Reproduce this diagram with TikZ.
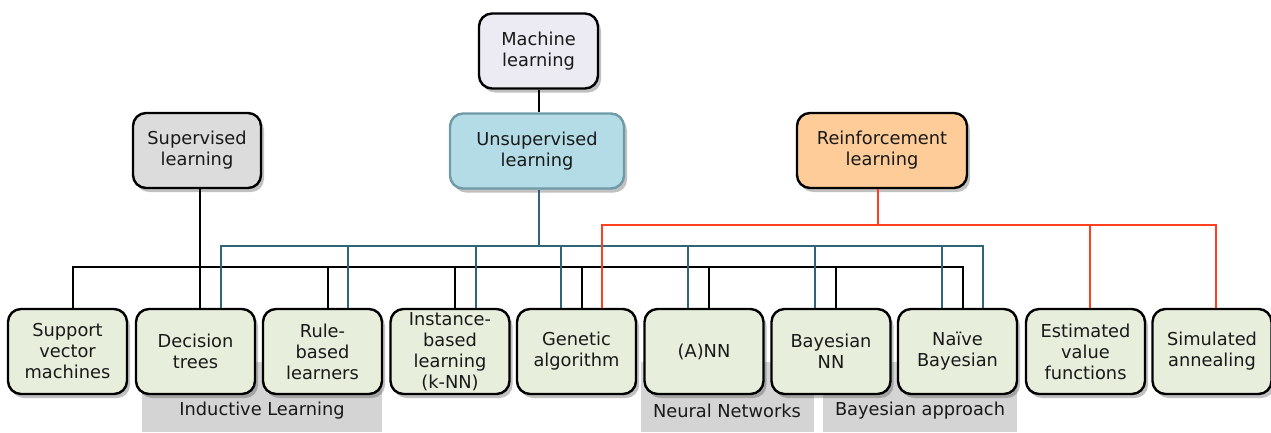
\documentclass[tikz,border=0pt]{standalone}
\usepackage{fontspec}
\setmainfont{DejaVu Sans}
\usetikzlibrary{shadows,calc}
\definecolor{boxgreen}{HTML}{E8EEDC}
\definecolor{mlfill}{HTML}{ECEAF2}
\definecolor{supfill}{HTML}{DCDCDC}
\definecolor{unsfill}{HTML}{B3DCE6}
\definecolor{unsdraw}{HTML}{6F9AA7}
\definecolor{reffill}{HTML}{FDCC99}
\definecolor{tealline}{HTML}{2F6577}
\definecolor{redline}{HTML}{FF4020}
\definecolor{bandgray}{HTML}{D4D4D4}
\tikzset{
  box/.style={draw=black, line width=2.4pt, rounded corners=13pt, align=center,
    inner sep=0pt, font=\fontsize{17.8}{21}\selectfont, text=black!90,
    drop shadow={shadow xshift=3pt, shadow yshift=-4pt, opacity=0.35, fill=black!70}},
  leaf/.style={box, fill=boxgreen, minimum width=119pt, minimum height=85pt},
  topbox/.style={box, minimum height=75pt},
  blk/.style={draw=black, line width=2pt},
  tl/.style={draw=tealline, line width=2pt},
  rl/.style={draw=redline, line width=2pt},
  bandlbl/.style={font=\fontsize{17.8}{21}\selectfont, text=black!90, inner sep=0pt}
}
\begin{document}
\begin{tikzpicture}[x=1pt,y=-1pt]
\useasboundingbox (0,0) rectangle (1271,432);
% bands
\fill[bandgray] (142,362) rectangle (382,432);
\fill[bandgray] (641,362) rectangle (814,432);
\fill[bandgray] (823,362) rectangle (1017,432);
\node[bandlbl] (lind) at (262,411) {Inductive Learning};
\node[bandlbl] (lnn) at (727,411) {Neural Networks};
\node[bandlbl] (lbay) at (920,411) {Bayesian approach};
% top nodes
\node[topbox, fill=mlfill, minimum width=119pt] (ml) at (538.5,51) {Machine\\learning};
\node[topbox, fill=supfill, minimum width=128pt] (sup) at (197,150.5) {Supervised\\learning};
\node[topbox, fill=unsfill, draw=unsdraw, minimum width=174pt] (uns) at (537,151) {Unsupervised\\learning};
\node[topbox, fill=reffill, minimum width=170pt] (rei) at (882,150.5) {Reinforcement\\learning};
% leaves
\node[leaf] (b1) at (67.5,351.5) {Support\\vector\\machines};
\node[leaf] (b2) at (195.5,351.5) {Decision\\trees};
\node[leaf] (b3) at (322.5,351.5) {Rule-\\based\\learners};
\node[leaf] (b4) at (450,351.5) {Instance-\\based\\learning\\(k-NN)};
\node[leaf] (b5) at (576.5,351.5) {Genetic\\algorithm};
\node[leaf] (b6) at (704,351.5) {(A)NN};
\node[leaf] (b7) at (831,351.5) {Bayesian\\NN};
\node[leaf] (b8) at (957.5,351.5) {Naïve\\Bayesian};
\node[leaf] (b9) at (1085.5,351.5) {Estimated\\value\\functions};
\node[leaf] (b10) at (1212,351.5) {Simulated\\annealing};
% bus levels
\coordinate (hr) at (0,225);
\coordinate (ht) at (0,246);
\coordinate (hb) at (0,267);
% attachment points
\foreach \n in {b1,b2,b3,b4,b5,b6,b7,b8,b9,b10}{
  \coordinate (k\n) at ([xshift=5pt]\n.north);
  \coordinate (tr\n) at ([xshift=25.5pt]\n.north);
  \coordinate (tl\n) at ([xshift=-16pt]\n.north);
  \coordinate (r\n) at ([xshift=4pt]\n.north);
}
% ML -> unsupervised
\draw[blk] ([xshift=0.5pt]ml.south) -- ([xshift=0.5pt]ml.south |- uns.north);
% supervised (black)
\coordinate (s0) at ([xshift=3pt]sup.south);
\draw[blk] (s0) -- (s0 |- b2.north);
\draw[blk] (kb1) |- (hb -| kb8) -- (kb8);
\foreach \n in {b3,b4,b5,b6,b7}
  \draw[blk] (k\n) -- (k\n |- hb);
% unsupervised (teal)
\coordinate (u0) at ([xshift=2pt]uns.south);
\draw[tl] (u0) -- (u0 |- ht);
\draw[tl] (trb2) |- (ht -| trb8) -- (trb8);
\foreach \n in {b3,b4}
  \draw[tl] (tr\n) -- (tr\n |- ht);
\foreach \n in {b5,b6,b7,b8}
  \draw[tl] (tl\n) -- (tl\n |- ht);
% reinforcement (red)
\coordinate (r0) at ([xshift=-4pt]rei.south);
\draw[rl] (r0) -- (r0 |- hr);
\draw[rl] (trb5) |- (hr -| rb10) -- (rb10);
\draw[rl] (rb9) -- (rb9 |- hr);
\end{tikzpicture}
\end{document}
